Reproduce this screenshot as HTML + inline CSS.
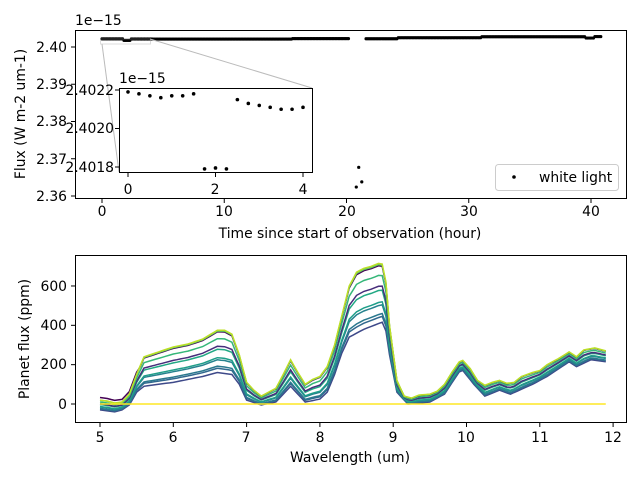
<!DOCTYPE html>
<html><head><meta charset="utf-8"><style>
body{margin:0;background:#fff;}
svg{display:block;font-family:"DejaVu Sans","Liberation Sans",sans-serif;font-size:13.9px;}
</style></head><body>
<svg id="s" width="640" height="480" viewBox="0 0 640 480" xmlns="http://www.w3.org/2000/svg">
<rect width="640" height="480" fill="#fff"/>
<g id="gtop"></g>
<g id="gbot"></g>
<g fill="#000">
<text x="75" y="25">1e−15</text>
<g text-anchor="end">
<text x="67" y="52">2.40</text>
<text x="67" y="89">2.39</text>
<text x="67" y="126">2.38</text>
<text x="67" y="164">2.37</text>
<text x="67" y="201">2.36</text>
</g>
<g text-anchor="middle">
<text x="102" y="216">0</text>
<text x="224" y="216">10</text>
<text x="347" y="216">20</text>
<text x="469" y="216">30</text>
<text x="591" y="216">40</text>
<text x="350" y="238">Time since start of observation (hour)</text>
<text transform="translate(25,114) rotate(-90)">Flux (W m-2 um-1)</text>
</g>
<text x="119" y="83">1e−15</text>
<g text-anchor="end">
<text x="114" y="95">2.4022</text>
<text x="114" y="133">2.4020</text>
<text x="114" y="172">2.4018</text>
</g>
<g text-anchor="middle">
<text x="128" y="194">0</text>
<text x="215" y="194">2</text>
<text x="303" y="194">4</text>
</g>
<text x="539" y="182">white light</text>
<g text-anchor="end">
<text x="67" y="409">0</text>
<text x="67" y="369">200</text>
<text x="67" y="330">400</text>
<text x="67" y="291">600</text>
</g>
<g text-anchor="middle">
<text x="100" y="442">5</text>
<text x="173" y="442">6</text>
<text x="246" y="442">7</text>
<text x="320" y="442">8</text>
<text x="393" y="442">9</text>
<text x="466" y="442">10</text>
<text x="540" y="442">11</text>
<text x="613" y="442">12</text>
<text x="350" y="462">Wavelength (um)</text>
<text transform="translate(29,339) rotate(-90)">Planet flux (ppm)</text>
</g>
</g>
</svg>
<script>
(function(){
var NS="http://www.w3.org/2000/svg";
function el(p,t,a){var e=document.createElementNS(NS,t);for(var k in a)e.setAttribute(k,a[k]);p.appendChild(e);return e;}
var gt=document.getElementById("gtop"),gb=document.getElementById("gbot");
function tx(h){return 102+h*12.225;}
function ty(v){return 47-(v-2.40)*3725;}
var pts=[];
for(var h=0;h<=40.8;h+=0.12){
 if(h>20.2&&h<21.6)continue;
 var v;
 if(h<1.7)v=2.40219;else if(h<2.35)v=2.40178;else if(h<4.2)v=2.40214;
 else if(h<15.5)v=2.40213;else if(h<20.2)v=2.40225;else if(h<24.2)v=2.40222;
 else if(h<31)v=2.4025;else if(h<39.5)v=2.40275;else if(h<40.2)v=2.4024;else v=2.4028;
 pts.push([h,v]);
}
pts.push([20.8,2.3624],[21.0,2.3677],[21.25,2.3638]);
pts.forEach(function(p){el(gt,"circle",{cx:tx(p[0]),cy:ty(p[1]),r:1.6,fill:"#000"});});
el(gt,"rect",{x:100.5,y:39,width:50,height:5,fill:"none",stroke:"#aaa","stroke-width":1,opacity:0.4});
el(gt,"line",{x1:102,y1:44,x2:119,y2:172,stroke:"#bbb","stroke-width":1});
el(gt,"line",{x1:150,y1:39,x2:312,y2:88,stroke:"#bbb","stroke-width":1});
el(gt,"rect",{x:75.5,y:30.5,width:551,height:168,fill:"none",stroke:"#000","stroke-width":1});
[47,84.25,121.5,158.75,196].forEach(function(y){el(gt,"line",{x1:71,y1:y,x2:75,y2:y,stroke:"#000"});});
[0,10,20,30,40].forEach(function(h){el(gt,"line",{x1:tx(h),y1:199,x2:tx(h),y2:203,stroke:"#000"});});
el(gt,"rect",{x:119.5,y:88.5,width:193,height:84,fill:"#fff",stroke:"#000","stroke-width":1});
function ix(h){return 128+h*43.75;}
function iy(v){return 90-(v-2.4022)*192500;}
var ins=[[0,2.40219],[0.25,2.40218],[0.5,2.40217],[0.75,2.40216],[1,2.40217],[1.25,2.40217],[1.5,2.40218],
[1.75,2.40179],[2,2.401795],[2.25,2.40179],[2.5,2.40215],[2.75,2.40213],[3,2.40212],[3.25,2.40211],[3.5,2.4021],[3.75,2.4021],[4,2.40211]];
ins.forEach(function(p){el(gt,"circle",{cx:ix(p[0]),cy:iy(p[1]),r:1.8,fill:"#000"});});
[90,128.5,167].forEach(function(y){el(gt,"line",{x1:115,y1:y,x2:119,y2:y,stroke:"#000"});});
[0,2,4].forEach(function(h){el(gt,"line",{x1:ix(h),y1:173,x2:ix(h),y2:177,stroke:"#000"});});
el(gt,"rect",{x:495.5,y:164.5,width:123,height:26,rx:3,fill:"#fff",stroke:"#ccc","stroke-width":1});
el(gt,"circle",{cx:514,cy:177,r:1.8,fill:"#000"});
function bx(w){return 100+(w-5)*73.3;}
function by(v){return 404-v*0.1967;}
var hi=[[5,20],[5.1,15],[5.2,5],[5.3,10],[5.4,50],[5.5,150],[5.6,240],[5.8,265],[6,290],[6.2,305],[6.4,330],[6.6,375],[6.7,375],[6.8,355],[6.9,250],[7,110],[7.1,70],[7.2,40],[7.3,60],[7.4,80],[7.5,150],[7.6,225],[7.7,160],[7.8,100],[7.9,125],[8,140],[8.1,190],[8.2,300],[8.3,450],[8.4,600],[8.5,670],[8.6,690],[8.7,700],[8.8,715],[8.88,710],[8.95,400],[9.05,120],[9.15,40],[9.25,30],[9.35,45],[9.5,50],[9.6,65],[9.7,100],[9.8,160],[9.93,230],[10.05,180],[10.15,120],[10.25,95],[10.35,110],[10.45,120],[10.55,105],[10.65,110],[10.75,140],[10.9,160],[11,170],[11.1,200],[11.25,230],[11.4,265],[11.5,240],[11.6,275],[11.75,285],[11.9,270]];
var lo=[[5,-30],[5.2,-40],[5.3,-30],[5.4,-5],[5.5,60],[5.6,90],[6,110],[6.4,140],[6.6,160],[6.8,150],[6.9,100],[7,20],[7.2,-5],[7.4,10],[7.6,90],[7.8,10],[8,25],[8.1,60],[8.2,150],[8.3,260],[8.4,340],[8.6,380],[8.88,420],[8.95,250],[9.05,60],[9.2,0],[9.5,10],[9.7,50],[9.93,180],[10.1,100],[10.25,40],[10.45,70],[10.6,50],[10.9,100],[11.1,140],[11.4,215],[11.5,190],[11.7,225],[11.9,215]];
function interp(a,w){for(var i=0;i<a.length-1;i++){if(w<=a[i+1][0]){var t=(w-a[i][0])/(a[i+1][0]-a[i][0]);return a[i][1]+t*(a[i+1][1]-a[i][1]);}}return a[a.length-1][1];}
var lines=[[0,"#3e4989"],[0.1,"#31688e"],[0.15,"#2a788e"],[0.3,"#26828e"],[0.35,"#1f9e89"],[0.55,"#22a884"],[0.62,"#472d7b"],[0.8,"#35b779"],[0.96,"#440154"],[0.98,"#5ec962"],[1.0,"#bddf26"]];
lines.forEach(function(L){
 var d="";
 for(var w=5;w<=11.901;w+=0.05){
  var v=L[0]*interp(hi,w)+(1-L[0])*interp(lo,w);
  if(L[1]=="#440154"&&w<5.5)v+=15;
  d+=(d?"L":"M")+bx(w).toFixed(1)+","+by(v).toFixed(1);
 }
 el(gb,"path",{d:d,fill:"none",stroke:L[1],"stroke-width":1.5});
});
el(gb,"line",{x1:bx(5),y1:by(0),x2:bx(11.9),y2:by(0),stroke:"#fde725","stroke-width":1.5});
el(gb,"rect",{x:75.5,y:255.5,width:551,height:167,fill:"none",stroke:"#000","stroke-width":1});
[0,200,400,600].forEach(function(v){el(gb,"line",{x1:71,y1:by(v),x2:75,y2:by(v),stroke:"#000"});});
for(var w=5;w<=12;w++)el(gb,"line",{x1:bx(w),y1:423,x2:bx(w),y2:427,stroke:"#000"});
})();
</script>
</body></html>
